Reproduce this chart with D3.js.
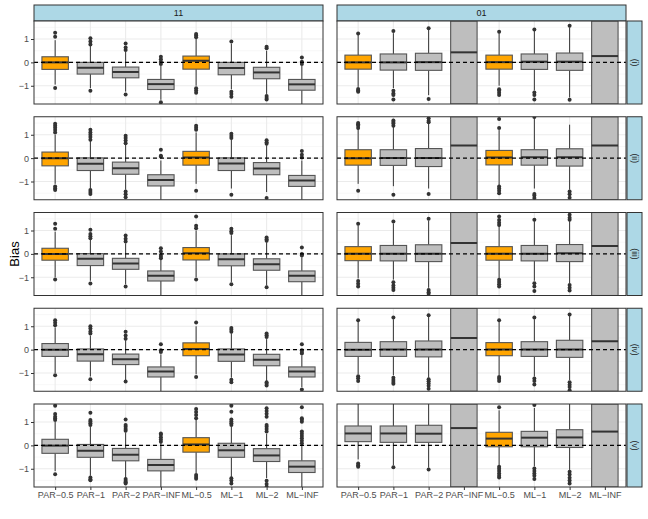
<!DOCTYPE html>
<html><head><meta charset="utf-8">
<script src="https://cdn.jsdelivr.net/npm/d3@7"></script>
<style>body{margin:0;background:#fff}svg{display:block}text{font-family:"Liberation Sans",Arial,sans-serif}</style>
</head><body>
<script>
const categories = ["PAR−0.5","PAR−1","PAR−2","PAR−INF","ML−0.5","ML−1","ML−2","ML−INF"];
const colFacets = ["11","01"];
const rowFacets = ["(i)","(ii)","(iii)","(iv)","(v)"];
const yTicks = [-1,0,1];
const yMinor = [-1.5,-0.5,0.5,1.5];
const yDomain = [-1.78,1.77];

// highlight flags (1 = orange) per row, for each column facet
const hl11 = [[1,0,0,0,1,0,0,0],[1,0,0,0,1,0,0,0],[1,0,0,0,1,0,0,0],[0,0,0,0,1,0,0,0],[0,0,0,0,1,0,0,0]];
const hl01 = [[1,0,0,0,1,0,0,0],[1,0,0,0,1,0,0,0],[1,0,0,0,1,0,0,0],[0,0,0,0,1,0,0,0],[0,0,0,0,1,0,0,0]];

// facet "11"
const lo11 = [[-0.95,-1.1,-1.25,-1.6,-1.0,-1.15,-1.35,-1.8],[-1.1,-1.3,-1.35,-1.8,-1.1,-1.3,-1.45,-1.8],[-1.0,-1.15,-1.3,-1.8,-1.0,-1.2,-1.35,-1.8],[-1.0,-1.15,-1.3,-1.8,-1.05,-1.2,-1.35,-1.6],[-1.1,-1.3,-1.4,-1.8,-1.2,-1.35,-1.4,-1.8]];
const q1_11 = [[-0.30,-0.50,-0.66,-1.16,-0.29,-0.53,-0.70,-1.19],[-0.33,-0.53,-0.69,-1.19,-0.30,-0.53,-0.71,-1.21],[-0.27,-0.50,-0.66,-1.16,-0.26,-0.51,-0.70,-1.19],[-0.29,-0.49,-0.64,-1.17,-0.26,-0.50,-0.69,-1.17],[-0.34,-0.51,-0.66,-1.09,-0.29,-0.51,-0.69,-1.16]];
const med11 = [[0.0,-0.23,-0.41,-0.93,0.07,-0.24,-0.43,-0.94],[-0.01,-0.24,-0.43,-0.94,0.03,-0.23,-0.44,-0.96],[0.0,-0.21,-0.41,-0.94,0.03,-0.23,-0.44,-0.94],[0.0,-0.20,-0.41,-0.93,0.03,-0.21,-0.43,-0.93],[-0.01,-0.23,-0.40,-0.84,0.04,-0.21,-0.43,-0.91]];
const q3_11 = [[0.24,0.0,-0.20,-0.73,0.27,0.0,-0.21,-0.73],[0.26,0.01,-0.17,-0.71,0.29,0.01,-0.19,-0.74],[0.24,0.01,-0.19,-0.73,0.27,0.0,-0.21,-0.73],[0.26,0.03,-0.19,-0.74,0.29,0.03,-0.20,-0.74],[0.26,0.04,-0.13,-0.60,0.33,0.09,-0.14,-0.66]];
const hi11 = [[0.95,0.7,0.45,-0.15,1.0,0.8,0.5,-0.15],[1.0,0.75,0.6,-0.1,1.1,0.8,0.55,-0.1],[0.95,0.6,0.45,-0.25,1.0,0.8,0.5,-0.15],[0.95,0.6,0.4,-0.2,1.0,0.7,0.45,-0.25],[1.0,0.8,0.55,0.1,1.1,0.8,0.5,0.0]];
const out11 = [
 [[1.1,1.27,-1.1],[0.77,0.89,1.03,-1.21],[0.53,0.64,0.81,-1.37],[-0.07,0.03,0.13,0.24,-1.71],[1.07,1.15,1.21,-1.11,-1.2,-1.3],[0.89,-1.26,-1.35,-1.47],[0.6,0.67,-1.44,-1.52,-1.59],[-0.07,0.03,0.21]],
 [[1.1,1.2,1.3,1.39,1.47,-1.21,-1.3,-1.36],[0.79,0.9,1.0,1.1,1.21,-1.36,-1.45,-1.53],[0.64,0.75,0.86,0.96,-1.43,-1.55,-1.67],[0.07,0.1,0.36],[1.21,1.3,1.39,-1.39],[0.86,0.95,1.04,-1.57],[0.61,0.68,0.76,-1.7],[0.03,0.14,0.3]],
 [[1.07,1.29,-1.1],[0.67,0.75,0.85,1.03,-1.27],[0.53,0.65,0.79,-1.4],[-0.19,-0.12,-0.05,0.1,0.24],[1.1,1.2,1.6,-1.1],[0.89,0.97,1.07,-1.3],[0.56,0.63,0.7,-1.43],[-0.07,-0.01,0.27]],
 [[1.04,1.15,1.26,-1.1],[0.69,0.78,0.9,1.0,-1.27],[0.47,0.6,0.76,-1.36],[-0.1,-0.03,0.23],[1.16,-1.17],[0.76,0.85,0.93,-1.29,-1.39],[0.54,0.62,0.69,-1.39,-1.46,-1.53],[-0.17,-0.1,-0.03,0.23,-1.71]],
 [[1.09,1.15,1.22,1.34,1.7,-1.23],[0.87,0.95,1.02,1.09,1.4,-1.37,-1.45,-1.49],[0.63,0.7,0.8,0.87,1.11,-1.44,-1.52,-1.58,-1.63],[0.16,0.25,0.35,0.45,0.51],[1.16,1.3,1.43,1.56,-1.27,-1.35,-1.43],[0.87,0.95,1.02,1.11,1.44,1.7,-1.41,-1.5,-1.63],[0.59,0.7,0.8,0.87,1.23,1.35,1.47,1.59,-1.51,-1.65,-1.77],[0.09,0.2,0.3,0.4,0.5,0.59,1.01,1.1,1.16,1.63]]
];

// facet "01" (INF boxes span the whole range)
const lo01 = [[-1.05,-1.1,-1.4,null,-1.0,-1.2,-1.5,null],[-1.1,-1.2,-1.3,null,-1.15,-1.3,-1.35,null],[-1.05,-1.1,-1.45,null,-1.05,-1.15,-1.25,null],[-1.05,-1.1,-1.2,null,-1.1,-1.15,-1.3,null],[-0.6,-0.85,-0.95,null,-0.85,-0.9,-1.05,null]];
const q1_01 = [[-0.29,-0.33,-0.34,-Infinity,-0.29,-0.30,-0.34,-Infinity],[-0.30,-0.31,-0.36,-Infinity,-0.29,-0.30,-0.34,-Infinity],[-0.29,-0.30,-0.33,-Infinity,-0.27,-0.30,-0.33,-Infinity],[-0.29,-0.29,-0.31,-Infinity,-0.26,-0.29,-0.33,-Infinity],[0.16,0.13,0.13,-Infinity,-0.06,-0.06,-0.09,-Infinity]];
const med01 = [[0.0,0.0,0.01,0.43,0.01,0.03,0.03,0.27],[0.0,0.01,0.01,0.54,0.03,0.04,0.04,0.54],[0.01,0.01,0.01,0.47,0.01,0.01,0.03,0.34],[0.0,0.01,0.01,0.50,0.01,0.01,0.01,0.36],[0.51,0.51,0.50,0.74,0.29,0.33,0.34,0.59]];
const q3_01 = [[0.31,0.36,0.39,Infinity,0.31,0.36,0.40,Infinity],[0.36,0.36,0.41,Infinity,0.33,0.36,0.40,Infinity],[0.31,0.36,0.39,Infinity,0.31,0.36,0.40,Infinity],[0.31,0.34,0.37,Infinity,0.30,0.34,0.40,Infinity],[0.83,0.83,0.86,Infinity,0.56,0.60,0.67,Infinity]];
const hi01 = [[1.18,1.25,1.4,null,1.25,1.35,1.5,null],[1.25,1.35,1.5,null,1.2,1.7,1.43,null],[1.22,1.3,1.42,null,1.2,1.4,1.4,null],[1.2,1.3,1.4,null,1.2,1.3,1.45,null],[2.0,2.0,2.0,null,1.5,1.6,2.0,null]];
const out01 = [
 [[1.24,-1.14,-1.2,-1.26],[1.34,-1.21,-1.33,-1.4,-1.59],[1.46,-1.57],[],[1.31,-1.15,-1.2,-1.3,-1.4],[1.41,-1.29,-1.4,-1.59],[1.57,-1.6],[]],
 [[1.29,1.38,1.45,1.5,-1.4],[1.39,1.48,1.55,1.61,-1.57],[1.53,1.6,1.71,-1.53],[],[1.29,1.67,-1.21,-1.3,-1.4,-1.5],[1.76,-1.53,-1.6,-1.71],[-1.43,-1.55,-1.69],[]],
 [[1.29,-1.16,-1.28,-1.4],[1.39,-1.21,-1.35,-1.45,-1.54],[1.5,-1.54,-1.64,-1.71],[],[1.24,1.33,1.45,1.6,-1.11,-1.2,-1.3,-1.4],[1.46,-1.26,-1.4,-1.59],[1.46,1.55,1.67,-1.33,-1.45,-1.57],[]],
 [[1.26,-1.14,-1.22,-1.34],[1.37,-1.2,-1.3,-1.38,-1.46],[1.47,-1.27,-1.35,-1.45,-1.55,-1.67],[],[1.26,-1.17,-1.25,-1.34],[1.37,-1.24,-1.34,-1.49],[1.5,-1.39,-1.5,-1.6,-1.74],[]],
 [[-0.77,-0.85,-0.91],[-0.94],[-1.03],[],[1.63,-0.91,-1.0,-1.1,-1.2,-1.3,-1.37],[1.73,-0.99,-1.1,-1.2,-1.3,-1.44],[-1.13,-1.25,-1.38,-1.5,-1.63],[]]
];

const facetData = {
  "11": {lo: lo11, q1: q1_11, med: med11, q3: q3_11, hi: hi11, out: out11, hl: hl11},
  "01": {lo: lo01, q1: q1_01, med: med01, q3: q3_01, hi: hi01, out: out01, hl: hl01}
};

const W = 648, H = 519;
const svg = d3.select("body").append("svg").attr("width", W).attr("height", H);
svg.append("rect").attr("width", W).attr("height", H).attr("fill", "#fff");

const colX = [34, 337], panelW = 289;
const rowY0 = 21, rowStep = 95.75, panelH = 83;
const stripTop = 5, stripH = 16, rStripX = 627, rStripW = 15;

const x = d3.scalePoint().domain(categories).range([0, panelW]).padding(0.6);
const step = x.step();
const boxW = step * 0.75;
const y = d3.scaleLinear().domain(yDomain).range([panelH, 0]).clamp(true);

const defs = svg.append("defs");

colFacets.forEach((cf, ci) => {
  // top strip
  svg.append("rect").attr("x", colX[ci]).attr("y", stripTop).attr("width", panelW).attr("height", stripH)
    .attr("fill", "#ADD8E6").attr("stroke", "#333").attr("stroke-width", 1);
  svg.append("text").attr("x", colX[ci] + panelW / 2).attr("y", stripTop + stripH / 2).attr("dy", "0.35em")
    .attr("text-anchor", "middle").attr("font-size", 9).attr("fill", "#1A1A1A").text(cf);

  const fd = facetData[cf];
  rowFacets.forEach((rf, ri) => {
    const px = colX[ci], py = rowY0 + ri * rowStep;
    const g = svg.append("g").attr("transform", `translate(${px},${py})`);
    const cid = `clip${ci}_${ri}`;
    defs.append("clipPath").attr("id", cid).append("rect").attr("width", panelW).attr("height", panelH);
    const inner = g.append("g").attr("clip-path", `url(#${cid})`);
    inner.append("rect").attr("width", panelW).attr("height", panelH).attr("fill", "#fff");
    // minor grid
    inner.selectAll(".mn").data(yMinor).enter().append("line")
      .attr("x1", 0).attr("x2", panelW).attr("y1", d => y(d)).attr("y2", d => y(d))
      .attr("stroke", "#F3F3F3").attr("stroke-width", 0.6);
    // major grid
    inner.selectAll(".mj").data(yTicks).enter().append("line")
      .attr("x1", 0).attr("x2", panelW).attr("y1", d => y(d)).attr("y2", d => y(d))
      .attr("stroke", "#EBEBEB").attr("stroke-width", 1.1);
    inner.selectAll(".vj").data(categories).enter().append("line")
      .attr("x1", d => x(d)).attr("x2", d => x(d)).attr("y1", 0).attr("y2", panelH)
      .attr("stroke", "#EBEBEB").attr("stroke-width", 1.1);

    categories.forEach((c, k) => {
      const cx = x(c);
      const lo = fd.lo[ri][k], hi = fd.hi[ri][k];
      const q1 = fd.q1[ri][k], q3 = fd.q3[ri][k], md = fd.med[ri][k];
      const fill = fd.hl[ri][k] ? "#FFA500" : "#BEBEBE";
      if (hi !== null) inner.append("line").attr("x1", cx).attr("x2", cx).attr("y1", y(q3)).attr("y2", y(hi))
        .attr("stroke", "#333").attr("stroke-width", 1);
      if (lo !== null) inner.append("line").attr("x1", cx).attr("x2", cx).attr("y1", y(q1)).attr("y2", y(lo))
        .attr("stroke", "#333").attr("stroke-width", 1);
      inner.append("rect").attr("x", cx - boxW / 2).attr("width", boxW)
        .attr("y", y(q3)).attr("height", y(q1) - y(q3))
        .attr("fill", fill).attr("stroke", "#555").attr("stroke-width", 1.1);
      inner.append("line").attr("x1", cx - boxW / 2).attr("x2", cx + boxW / 2).attr("y1", y(md)).attr("y2", y(md))
        .attr("stroke", "#333").attr("stroke-width", 2);
      inner.selectAll(null).data(fd.out[ri][k]).enter().append("circle")
        .attr("cx", cx).attr("cy", d => y(d)).attr("r", 2).attr("fill", "#333");
    });
    // zero line
    inner.append("line").attr("x1", 0).attr("x2", panelW).attr("y1", y(0)).attr("y2", y(0))
      .attr("stroke", "#000").attr("stroke-width", 1.1).attr("stroke-dasharray", "4,3");
    // border
    g.append("rect").attr("width", panelW).attr("height", panelH).attr("fill", "none")
      .attr("stroke", "#333").attr("stroke-width", 1);

    if (ci === 0) {
      const ax = g.append("g").call(d3.axisLeft(y).tickValues(yTicks).tickSize(3).tickPadding(2)
        .tickFormat(d => d < 0 ? "−" + Math.abs(d) : String(d)));
      ax.select(".domain").remove();
      ax.selectAll(".tick line").attr("stroke", "#333");
      ax.selectAll("text").attr("fill", "#4D4D4D").attr("font-size", 9).style("font-family", '"Liberation Sans",Arial,sans-serif');
    }
    if (ri === rowFacets.length - 1) {
      const ax = g.append("g").attr("transform", `translate(0,${panelH})`)
        .call(d3.axisBottom(x).tickSize(3).tickPadding(2));
      ax.select(".domain").remove();
      ax.selectAll(".tick line").attr("stroke", "#333");
      ax.selectAll("text").attr("fill", "#4D4D4D").attr("font-size", 9).style("font-family", '"Liberation Sans",Arial,sans-serif');
    }
    if (ci === colFacets.length - 1) {
      svg.append("rect").attr("x", rStripX).attr("y", py).attr("width", rStripW).attr("height", panelH)
        .attr("fill", "#ADD8E6").attr("stroke", "#333").attr("stroke-width", 1);
      svg.append("text").attr("transform", `translate(${rStripX + rStripW / 2},${py + panelH / 2}) rotate(90)`)
        .attr("dy", "0.35em").attr("text-anchor", "middle").attr("font-size", 8.5).attr("fill", "#1A1A1A").text(rf);
    }
  });
});

svg.append("text").attr("transform", `translate(14,${rowY0 + (4 * rowStep + panelH) / 2}) rotate(-90)`)
  .attr("text-anchor", "middle").attr("dy", "0.35em").attr("font-size", 13).attr("fill", "#000").text("Bias");
</script>
</body></html>
